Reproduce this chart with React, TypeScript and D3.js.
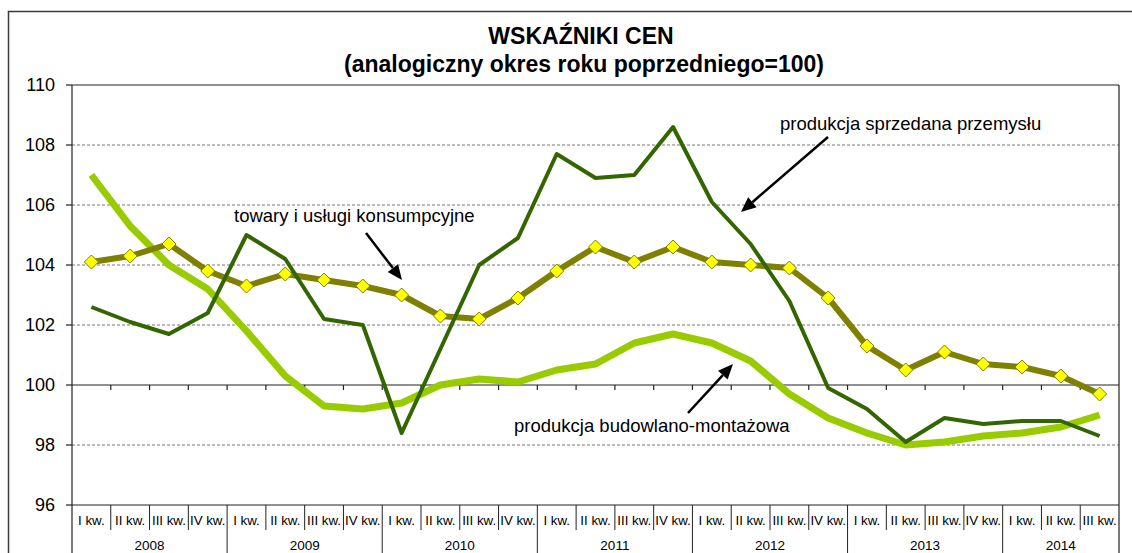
import React from 'react';
import * as d3 from 'd3';

const W = 1132;
const H = 553;
const margin = { top: 85, left: 72, right: 13, bottom: 48 };

const quarterNames = ['I kw.', 'II kw.', 'III kw.', 'IV kw.'];
const years = ['2008', '2009', '2010', '2011', '2012', '2013', '2014'];
const quartersPerYear = [4, 4, 4, 4, 4, 4, 3];

// towary i usługi konsumpcyjne
const consumer = [104.1, 104.3, 104.7, 103.8, 103.3, 103.7, 103.5, 103.3, 103.0, 102.3, 102.2, 102.9, 103.8, 104.6, 104.1, 104.6, 104.1, 104.0, 103.9, 102.9, 101.3, 100.5, 101.1, 100.7, 100.6, 100.3, 99.7];
// produkcja sprzedana przemysłu
const industry = [102.6, 102.1, 101.7, 102.4, 105.0, 104.2, 102.2, 102.0, 98.4, 101.2, 104.0, 104.9, 107.7, 106.9, 107.0, 108.6, 106.1, 104.7, 102.8, 99.9, 99.2, 98.1, 98.9, 98.7, 98.8, 98.8, 98.3];
// produkcja budowlano-montażowa
const construction = [107.0, 105.3, 104.0, 103.2, 101.8, 100.3, 99.3, 99.2, 99.4, 100.0, 100.2, 100.1, 100.5, 100.7, 101.4, 101.7, 101.4, 100.8, 99.7, 98.9, 98.4, 98.0, 98.1, 98.3, 98.4, 98.6, 99.0];

const yTicks = [96, 98, 100, 102, 104, 106, 108, 110];

const categories: { year: string; q: string }[] = [];
years.forEach((yr, i) => {
  for (let k = 0; k < quartersPerYear[i]; k++) categories.push({ year: yr, q: quarterNames[k] });
});

const font = '"Liberation Sans", Arial, sans-serif';

export default function App() {
  const x = d3.scaleBand<number>()
    .domain(d3.range(categories.length))
    .range([margin.left, W - margin.right])
    .padding(0);
  const y = d3.scaleLinear().domain([96, 110]).range([H - margin.bottom, margin.top]);
  const cx = (i: number) => (x(i) as number) + x.bandwidth() / 2;

  const line = d3.line<number>().x((_, i) => cx(i)).y(d => y(d));

  const left = margin.left;
  const right = W - margin.right;
  const bottom = y(96);
  const axisY = y(100);

  // year boundaries
  const yearStarts: number[] = [];
  let acc = 0;
  quartersPerYear.forEach(n => { yearStarts.push(acc); acc += n; });

  const arrow = (x1: number, y1: number, x2: number, y2: number, key: string) => {
    const a = Math.atan2(y2 - y1, x2 - x1);
    const len = 15, half = 6.5;
    const bx = x2 - len * Math.cos(a), by = y2 - len * Math.sin(a);
    const p1 = [bx + half * Math.sin(a), by - half * Math.cos(a)];
    const p2 = [bx - half * Math.sin(a), by + half * Math.cos(a)];
    return (
      <g key={key}>
        <line x1={x1} y1={y1} x2={bx} y2={by} stroke="#000" strokeWidth={2.5} />
        <polygon points={`${x2},${y2} ${p1[0]},${p1[1]} ${p2[0]},${p2[1]}`} fill="#000" />
      </g>
    );
  };

  return (
    <svg width={W} height={H} style={{ position: 'absolute', left: 0, top: 0, background: '#fff' }} fontFamily={font}>
      <rect x={8.5} y={11.5} width={W + 20} height={H + 20} fill="#fff" stroke="#3a3a3a" strokeWidth={1.5} />

      <text x={581} y={44} textAnchor="middle" fontSize={23} fontWeight="bold">WSKAŹNIKI CEN</text>
      <text x={584} y={72} textAnchor="middle" fontSize={23} fontWeight="bold">(analogiczny okres roku poprzedniego=100)</text>

      {/* gridlines */}
      {yTicks.filter(t => t !== 96 && t !== 110 && t !== 100).map(t => (
        <line key={'g' + t} x1={left} x2={right} y1={y(t)} y2={y(t)} stroke="#555" strokeWidth={0.8} strokeDasharray="3,2" />
      ))}
      <line x1={left} x2={right} y1={y(110)} y2={y(110)} stroke="#222" strokeWidth={1.2} />
      <line x1={left} x2={right} y1={bottom} y2={bottom} stroke="#222" strokeWidth={1.2} />
      <line x1={right} x2={right} y1={y(110)} y2={H + 5} stroke="#222" strokeWidth={1.2} />
      <line x1={left} x2={left} y1={y(110)} y2={H + 5} stroke="#222" strokeWidth={1.2} />

      {/* y axis */}
      {yTicks.map(t => (
        <g key={'y' + t}>
          <line x1={left - 6} x2={left} y1={y(t)} y2={y(t)} stroke="#222" strokeWidth={1.2} />
          <text x={55} y={y(t)} dy="0.35em" textAnchor="end" fontSize={18}>{t}</text>
        </g>
      ))}

      {/* axis at 100 */}
      <line x1={left} x2={right} y1={axisY} y2={axisY} stroke="#222" strokeWidth={1.2} />
      {categories.map((_, i) => i > 0 ? (
        <line key={'t' + i} x1={x(i) as number} x2={x(i) as number} y1={axisY} y2={axisY + 5} stroke="#222" strokeWidth={1.2} />
      ) : null)}

      {/* category labels */}
      {categories.map((c, i) => (
        <g key={'c' + i}>
          {i > 0 && !yearStarts.includes(i) ? (
            <line x1={x(i) as number} x2={x(i) as number} y1={bottom} y2={bottom + 25} stroke="#222" strokeWidth={1} />
          ) : null}
          <text x={cx(i)} y={525} textAnchor="middle" fontSize={13.3}>{c.q}</text>
        </g>
      ))}
      {yearStarts.map((s, i) => (
        <g key={'yr' + i}>
          {i > 0 ? <line x1={x(s) as number} x2={x(s) as number} y1={bottom} y2={H + 5} stroke="#222" strokeWidth={1} /> : null}
          <text x={((x(s) as number) + (x(s + quartersPerYear[i] - 1) as number) + x.bandwidth()) / 2} y={550} textAnchor="middle" fontSize={13.5}>{years[i]}</text>
        </g>
      ))}

      {/* series */}
      <path d={line(construction) || ''} fill="none" stroke="#99CC00" strokeWidth={7} strokeLinejoin="round" />
      <path d={line(consumer) || ''} fill="none" stroke="#808000" strokeWidth={6} strokeLinejoin="round" />
      {consumer.map((v, i) => (
        <path key={'m' + i} d={`M${cx(i)},${y(v) - 7}L${cx(i) + 7},${y(v)}L${cx(i)},${y(v) + 7}L${cx(i) - 7},${y(v)}Z`} fill="#FFFF00" stroke="#808000" strokeWidth={1} />
      ))}
      <path d={line(industry) || ''} fill="none" stroke="#336600" strokeWidth={4} strokeLinejoin="round" />

      {/* annotations */}
      <text x={234} y={222} fontSize={18.5}>towary i usługi konsumpcyjne</text>
      {arrow(366, 233, 402, 280, 'a1')}
      <text x={780} y={130} fontSize={18.5}>produkcja sprzedana przemysłu</text>
      {arrow(828, 137, 741, 212, 'a2')}
      <text x={514} y={432} fontSize={18.5}>produkcja budowlano-montażowa</text>
      {arrow(688, 413, 733, 364, 'a3')}
    </svg>
  );
}
